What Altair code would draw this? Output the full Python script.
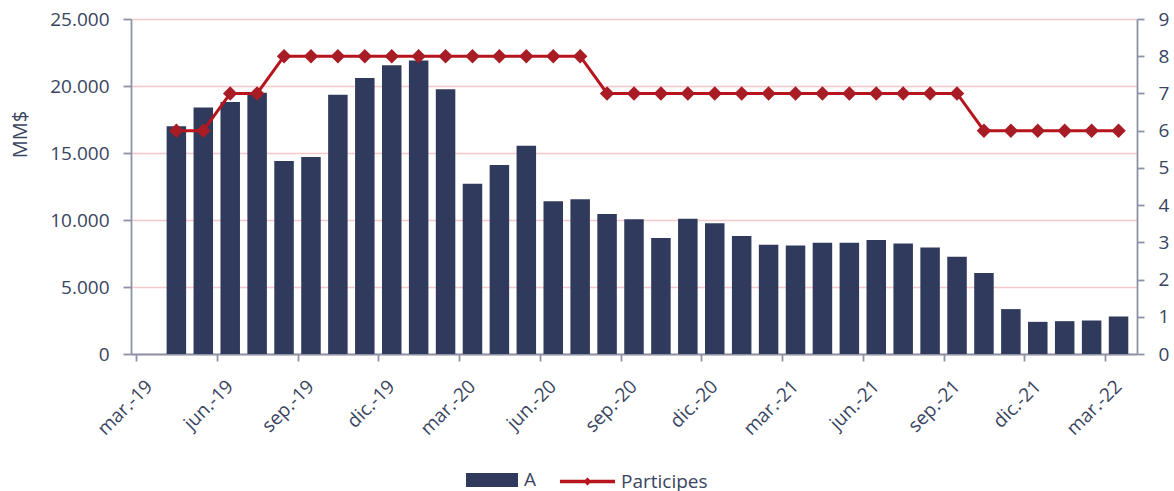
import altair as alt
import pandas as pd

# ---- data ----
months = ["abr.-19", "may.-19", "jun.-19", "jul.-19", "ago.-19", "sep.-19", "oct.-19", "nov.-19", "dic.-19",
          "ene.-20", "feb.-20", "mar.-20", "abr.-20", "may.-20", "jun.-20", "jul.-20", "ago.-20", "sep.-20",
          "oct.-20", "nov.-20", "dic.-20", "ene.-21", "feb.-21", "mar.-21", "abr.-21", "may.-21", "jun.-21",
          "jul.-21", "ago.-21", "sep.-21", "oct.-21", "nov.-21", "dic.-21", "ene.-22", "feb.-22", "mar.-22"]

a_values = [17000, 18400, 18800, 19500, 14400, 14700, 19350, 20600, 21550, 21900,
            19750, 12700, 14100, 15550, 11400, 11550, 10450, 10050, 8650, 10100,
            9750, 8800, 8150, 8100, 8300, 8300, 8500, 8250, 7950, 7250,
            6050, 3350, 2400, 2450, 2500, 2800]

participes = [6, 6, 7, 7, 8, 8, 8, 8, 8, 8,
              8, 8, 8, 8, 8, 8, 7, 7, 7, 7,
              7, 7, 7, 7, 7, 7, 7, 7, 7, 7,
              6, 6, 6, 6, 6, 6]

tick_labels = ["mar.-19", "jun.-19", "sep.-19", "dic.-19", "mar.-20", "jun.-20", "sep.-20",
               "dic.-20", "mar.-21", "jun.-21", "sep.-21", "dic.-21", "mar.-22"]

left_ticks = [0, 5000, 10000, 15000, 20000, 25000]
right_ticks = [0, 1, 2, 3, 4, 5, 6, 7, 8, 9]

# ---- table ----
df = pd.DataFrame({
    "mes": months,
    "pos": [i + 1.5 for i in range(len(months))],   # month slot index (slot 0 = mar.-19, empty)
    "A": a_values,
    "Participes": participes,
    "sA": ["A"] * len(months),
    "sP": ["Participes"] * len(months),
})

FONT = "Open Sans"
TXT = "#39445f"
AX = "#8e92a5"
NAVY = "#2f3a5c"
RED_LINE = "#b8141d"
RED_PT = "#a71c25"

tl_js = "[" + ",".join("'%s'" % t for t in tick_labels) + "]"

x_enc = alt.X(
    "pos:Q",
    scale=alt.Scale(domain=[0, 37], nice=False, zero=False),
    axis=alt.Axis(
        values=list(range(0, 37, 3)),
        labelExpr=tl_js + "[round(datum.value/3)]",
        title=None, grid=False,
        labelAngle=315, labelAlign="right", labelBaseline="middle",
        labelOffset=13, labelPadding=22, tickSize=7,
        labelFlush=False, labelOverlap=False,
    ),
)

base = alt.Chart(df)

bars = base.mark_bar(width=19.5).encode(
    x=x_enc,
    y=alt.Y(
        "A:Q",
        scale=alt.Scale(domain=[0, 25000], nice=False),
        axis=alt.Axis(
            values=left_ticks,
            labelExpr="replace(format(datum.value, ',d'), ',', '.')",
            title="MM$", titleFont=FONT, titleFontSize=20, titleFontWeight="normal",
            titleColor=TXT, titleAngle=270, titleX=-111, titleY=115,
            titleAlign="center", titleBaseline="middle",
            grid=True, gridColor="#f7c8cb", gridWidth=1.5,
            tickSize=8, labelPadding=14, labelFlush=False, labelOverlap=False,
        ),
    ),
    color=alt.Color(
        "sA:N",
        scale=alt.Scale(domain=["A"], range=[NAVY]),
        legend=alt.Legend(
            title=None, orient="none", legendX=348, legendY=448, padding=0,
            symbolType="M-2,-0.54H2V0.54H-2Z", symbolSize=676, symbolStrokeWidth=0,
            labelFont=FONT, labelFontSize=19, labelColor=TXT, labelOffset=19,
            labelLimit=0,
        ),
    ),
)

line = base.mark_line(strokeWidth=3).encode(
    x=x_enc,
    y=alt.Y(
        "Participes:Q",
        scale=alt.Scale(domain=[0, 9], nice=False),
        axis=alt.Axis(
            orient="right", values=right_ticks, format="d", title=None, grid=False,
            tickSize=7, labelPadding=14, labelFlush=False, labelOverlap=False,
        ),
    ),
    stroke=alt.Stroke(
        "sP:N",
        scale=alt.Scale(domain=["Participes"], range=[RED_LINE]),
        legend=alt.Legend(
            title=None, orient="none", legendX=441, legendY=447, padding=0,
            symbolType="M-2.04,0H2.04M-0.12,0L0,-0.12L0.12,0L0,0.12Z",
            symbolSize=729, symbolStrokeWidth=3.5,
            labelFont=FONT, labelFontSize=19, labelColor=TXT, labelOffset=18,
            labelLimit=0,
        ),
    ),
)

points = base.mark_point(shape="diamond", filled=True, size=210, opacity=1, color=RED_PT).encode(
    x=x_enc,
    y=alt.Y("Participes:Q", scale=alt.Scale(domain=[0, 9], nice=False), axis=None),
)

chart = (
    alt.layer(bars, line, points)
    .resolve_scale(y="independent", color="independent", stroke="independent")
    .properties(
        width=1006, height=335,
        autosize=alt.AutoSizeParams(type="none"),
        padding={"left": 131, "top": 19, "right": 37, "bottom": 137},
    )
    .configure_view(stroke=None)
    .configure_axis(
        labelFont=FONT, labelFontSize=19, labelColor=TXT,
        domainColor=AX, domainWidth=1.8, tickColor=AX, tickWidth=1.8,
    )
)

chart.save("out.html", embed_options={"renderer": "svg", "actions": False})
